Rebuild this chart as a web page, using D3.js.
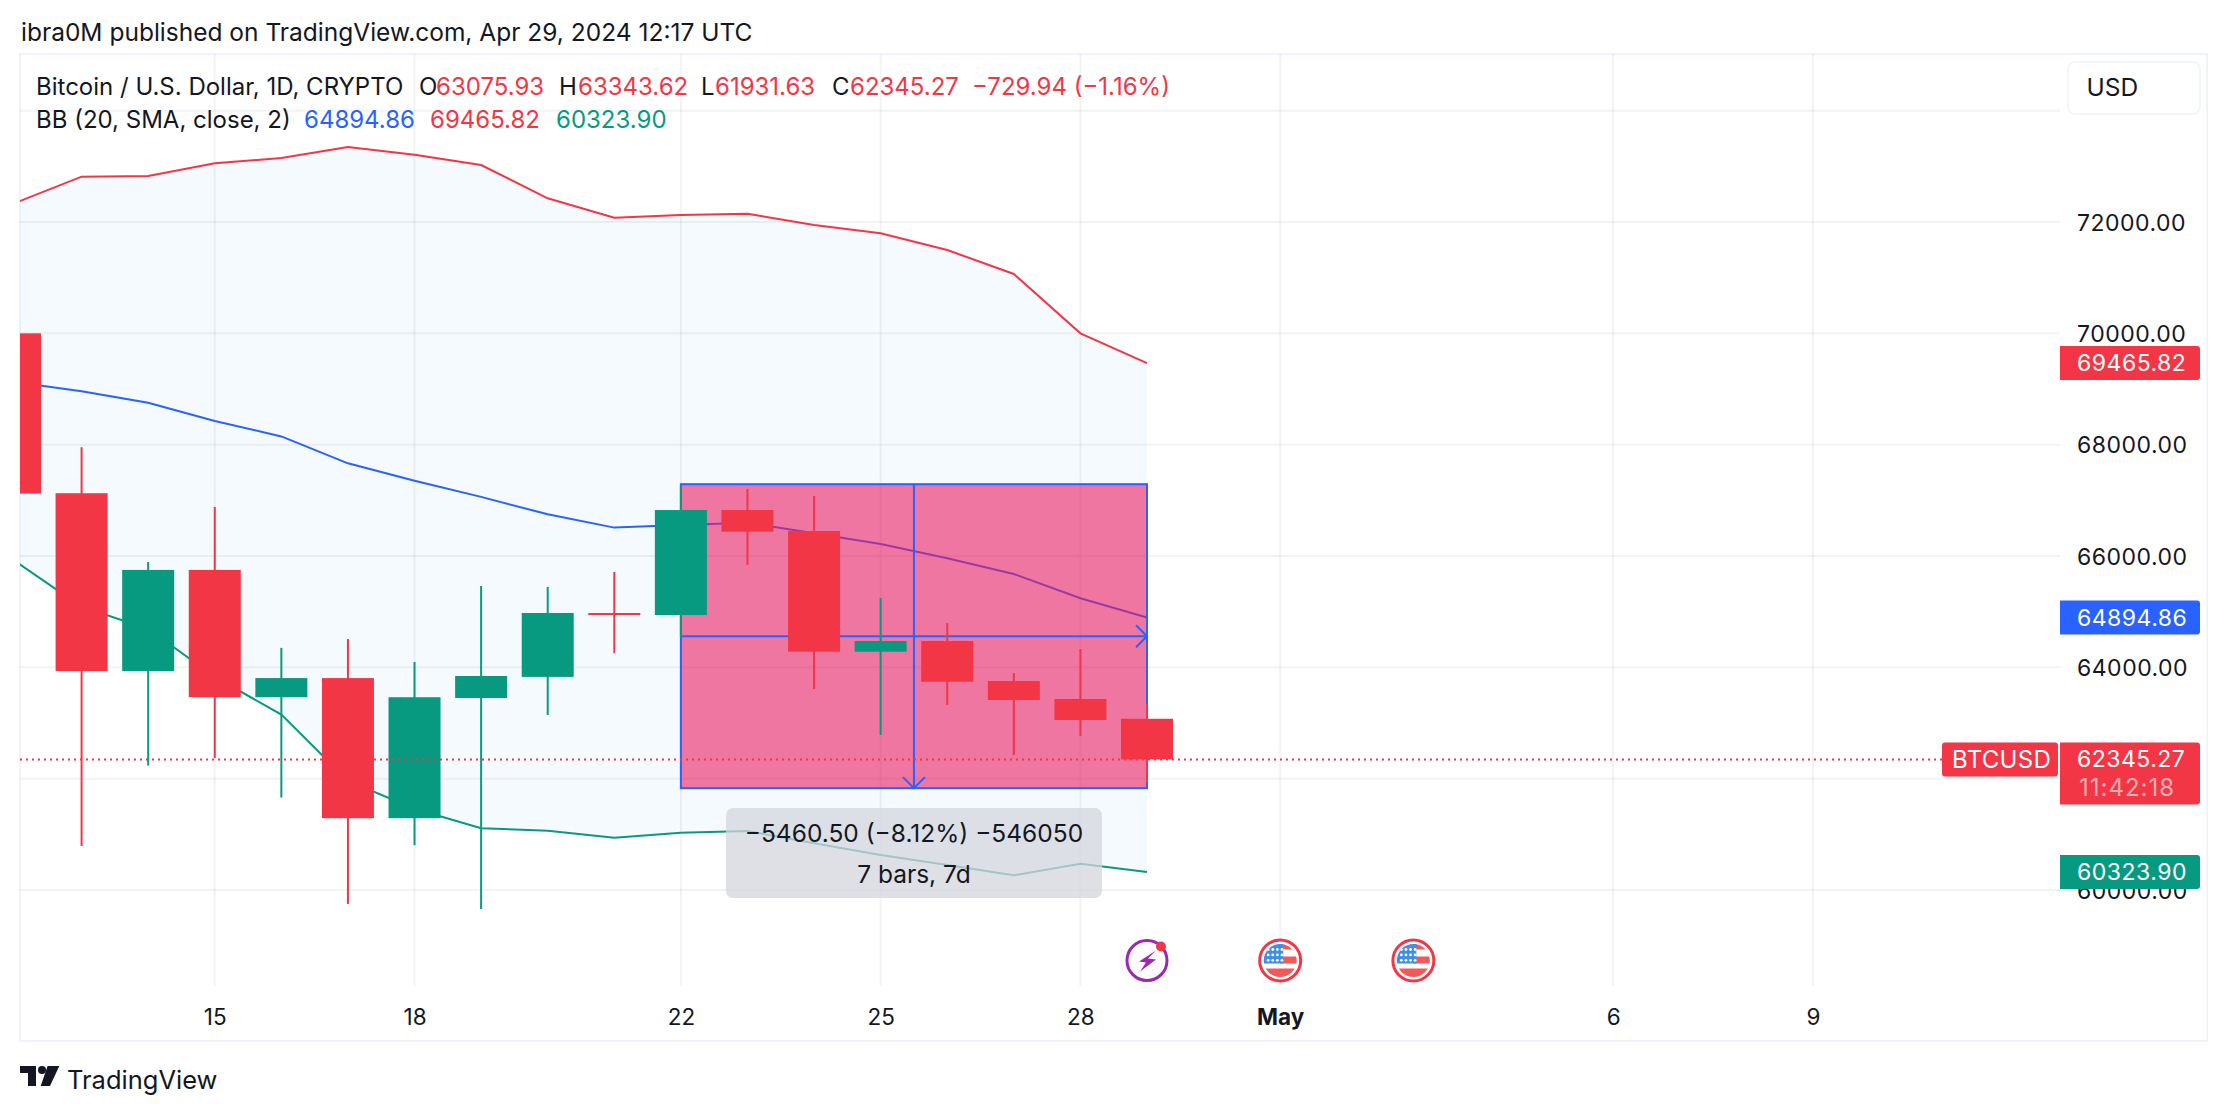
<!DOCTYPE html>
<html>
<head>
<meta charset="utf-8">
<script src="https://cdn.jsdelivr.net/npm/d3@7"></script>
<style>
  html, body { margin: 0; padding: 0; background: #fff; }
  svg { display: block; }
  text { font-family: Inter, "Noto Sans", sans-serif; fill: #131722; }
</style>
</head>
<body>
<div id="chart"></div>
<script>
// candles
var days   = ['2024-04-12','2024-04-13','2024-04-14','2024-04-15','2024-04-16','2024-04-17','2024-04-18','2024-04-19','2024-04-20',
              '2024-04-21','2024-04-22','2024-04-23','2024-04-24','2024-04-25','2024-04-26','2024-04-27','2024-04-28','2024-04-29'];
var opens  = [70000,67128,63934,65750,63463,63807,61290,63449,63828,64976,64940,66826,66449,64281,64473,63754,63431,63075.93];
var highs  = [71200,67954,65892,66882,64350,64507,64097,65459,65445,65713,67250,67204,67078,65246,64796,63898,64329,63343.62];
var lows   = [65100,60790,62235,62370,61661,59748,60805,59659,63144,64254,64540,65838,63611,62784,63323,62425,62767,61931.63];
var closes = [67121,63934,65750,63463,63807,61290,63463,63844,64976,64945,66826,66437,64281,64473,63742,63413,63054,62345.27];

// bollinger bands
var bbUpper = [72341,72814,72826,73055,73150,73347,73209,73024,72426,72077,72126,72149,71946,71797,71497,71066,70000,69465.82];
var bbBasis = [69126,68960,68752,68425,68148,67665,67351,67062,66749,66510,66557,66598,66408,66216,65959,65677,65240,64894.86];
var bbLower = [65910,65087,64692,63828,63151,61960,61460,61110,61065,60940,61029,61060,60839,60629,60449,60264,60472,60323.90];

// axes
var priceTicks = [74000,72000,70000,68000,66000,64000,62000,60000];
var priceLabels = [72000,70000,68000,66000,64000,60000];
var dateTicks  = ['2024-04-15','2024-04-18','2024-04-22','2024-04-25','2024-04-28','2024-05-01','2024-05-06','2024-05-09'];
var dateLabels = ['15','18','22','25','28','May','6','9'];

// measure tool + events
var rangeDays   = ['2024-04-22','2024-04-29'];
var rangePrices = [67290,61829.5];
var rangeText   = ['\u22125460.50 (\u22128.12%) \u2212546050','7 bars, 7d'];
var flagDays    = ['2024-05-01','2024-05-03'];
var boltDay     = '2024-04-29';

var lastPrice = 62345.27;
var red = '#f23645', green = '#089981', blue = '#2962ff', frameCol = '#f0f3fa';

var parse = d3.utcParse('%Y-%m-%d');
var width = 2228, height = 1112;
var plot = { left: 20, right: 2060, top: 54, bottom: 986 };

var x = d3.scaleUtc().domain([parse(days[0]), parse(days[days.length - 1])]).range([15, 1147]);
var y = d3.scaleLinear().domain([60000, 72000]).range([890, 222]);

var candles = days.map(function(d, i) {
  return { date: parse(d), o: opens[i], h: highs[i], l: lows[i], c: closes[i], up: bbUpper[i], mid: bbBasis[i], low: bbLower[i] };
});

var svg = d3.select('#chart').append('svg')
  .attr('width', width)
  .attr('height', height);

svg.append('defs').append('clipPath').attr('id', 'plotClip').append('rect')
  .attr('x', plot.left).attr('y', plot.top)
  .attr('width', plot.right - plot.left).attr('height', plot.bottom - plot.top);

function label(parent, px, py, str, color, size, anchor) {
  return parent.append('text')
    .attr('x', px).attr('y', py)
    .attr('dominant-baseline', 'central')
    .attr('text-anchor', anchor || 'start')
    .style('font-size', (size || 24) + 'px')
    .style('fill', color || '#131722')
    .text(str);
}

// top line and frame
label(svg, 21, 32, 'ibra0M published on TradingView.com, Apr 29, 2024 12:17 UTC', '#131722', 24.5);
svg.append('rect')
  .attr('x', 20).attr('y', 54)
  .attr('width', 2187).attr('height', 987)
  .attr('fill', 'none')
  .attr('stroke', frameCol)
  .attr('stroke-width', 2);

// grid
var chart = svg.append('g').attr('clip-path', 'url(#plotClip)');

chart.selectAll('.hgrid').data(priceTicks).enter().append('line')
  .attr('class', 'hgrid')
  .attr('x1', plot.left).attr('x2', plot.right)
  .attr('y1', function(d) { return y(d); })
  .attr('y2', function(d) { return y(d); })
  .attr('stroke', 'rgba(42,46,57,0.06)')
  .attr('stroke-width', 2);

chart.selectAll('.vgrid').data(dateTicks).enter().append('line')
  .attr('class', 'vgrid')
  .attr('x1', function(d) { return x(parse(d)); })
  .attr('x2', function(d) { return x(parse(d)); })
  .attr('y1', plot.top).attr('y2', plot.bottom)
  .attr('stroke', 'rgba(42,46,57,0.06)')
  .attr('stroke-width', 2);

// bollinger fill and lines
chart.append('path').datum(candles)
  .attr('fill', 'rgba(33,150,243,0.05)')
  .attr('d', d3.area()
    .x(function(d) { return x(d.date); })
    .y0(function(d) { return y(d.low); })
    .y1(function(d) { return y(d.up); }));

[['up', red], ['mid', blue], ['low', green]].forEach(function(s) {
  chart.append('path').datum(candles)
    .attr('fill', 'none')
    .attr('stroke', s[1])
    .attr('stroke-width', 2)
    .attr('d', d3.line()
      .x(function(d) { return x(d.date); })
      .y(function(d) { return y(d[s[0]]); }));
});

// date + price range box
var rx0 = x(parse(rangeDays[0])), rx1 = x(parse(rangeDays[1]));
var ry0 = y(rangePrices[0]), ry1 = y(rangePrices[1]);
var rxm = (rx0 + rx1) / 2, rym = (ry0 + ry1) / 2;

chart.append('rect')
  .attr('x', rx0).attr('y', ry0)
  .attr('width', rx1 - rx0).attr('height', ry1 - ry0)
  .attr('fill', 'rgba(233,30,99,0.6)')
  .attr('stroke', blue)
  .attr('stroke-width', 2);

var arrows = svg.append('g').attr('clip-path', 'url(#plotClip)')
  .attr('fill', 'none').attr('stroke', blue).attr('stroke-width', 2);
arrows.append('line').attr('x1', rx0).attr('x2', rx1).attr('y1', rym).attr('y2', rym);
arrows.append('line').attr('x1', rxm).attr('x2', rxm).attr('y1', ry0).attr('y2', ry1);
arrows.append('path').attr('d', 'M' + (rx1 - 11) + ',' + (rym - 11) + 'L' + rx1 + ',' + rym + 'L' + (rx1 - 11) + ',' + (rym + 11));
arrows.append('path').attr('d', 'M' + (rxm - 11) + ',' + (ry1 - 11) + 'L' + rxm + ',' + ry1 + 'L' + (rxm + 11) + ',' + (ry1 - 11));

// candles
var bodyW = 52;
var candle = svg.append('g').attr('clip-path', 'url(#plotClip)')
  .selectAll('g').data(candles).enter().append('g');

candle.append('line')
  .attr('x1', function(d) { return x(d.date); })
  .attr('x2', function(d) { return x(d.date); })
  .attr('y1', function(d) { return y(d.h); })
  .attr('y2', function(d) { return y(d.l); })
  .attr('stroke', function(d) { return d.c >= d.o ? green : red; })
  .attr('stroke-width', 2);

candle.append('rect')
  .attr('x', function(d) { return x(d.date) - bodyW / 2; })
  .attr('width', bodyW)
  .attr('y', function(d) { return y(Math.max(d.o, d.c)); })
  .attr('height', function(d) { return Math.max(2, Math.abs(y(d.o) - y(d.c))); })
  .attr('fill', function(d) { return d.c >= d.o ? green : red; });

// last price line
svg.append('line')
  .attr('x1', plot.left).attr('x2', 1942)
  .attr('y1', y(lastPrice)).attr('y2', y(lastPrice))
  .attr('stroke', red)
  .attr('stroke-width', 2)
  .attr('stroke-dasharray', '2 4');

// measure tooltip
svg.append('rect')
  .attr('x', rxm - 188).attr('y', 808)
  .attr('width', 376).attr('height', 90)
  .attr('rx', 7)
  .attr('fill', 'rgba(212,214,220,0.75)');
label(svg, rxm, 833, rangeText[0], '#131722', 24.5, 'middle');
label(svg, rxm, 874, rangeText[1], '#131722', 24.5, 'middle');

// y axis
var yAxis = d3.axisRight(y)
  .tickValues(priceLabels)
  .tickSize(0)
  .tickPadding(0)
  .tickFormat(d3.format('.2f'));
var yG = svg.append('g').attr('transform', 'translate(2077,0)').call(yAxis);
yG.select('.domain').remove();
yG.selectAll('text').style('font-size', '23px').attr('dy', null).attr('dominant-baseline', 'central').style('letter-spacing', '0.5px');

// x axis
var xAxis = d3.axisBottom(x)
  .tickValues(dateTicks.map(parse))
  .tickSize(0)
  .tickPadding(0)
  .tickFormat(function(d, i) { return dateLabels[i]; });
var xG = svg.append('g').attr('transform', 'translate(0,1016)').call(xAxis);
xG.select('.domain').remove();
xG.selectAll('text')
  .attr('dy', null)
  .attr('dominant-baseline', 'central')
  .style('font-size', '22.5px')
  .style('font-weight', function(d, i) { return dateLabels[i] === 'May' ? 700 : 400; });

// price tags
function tag(price, color, h, x0, w, str) {
  var top = y(price) - 17;
  svg.append('path')
    .attr('d', 'M' + x0 + ',' + top + 'H' + (x0 + w - 3) + 'a3,3 0 0 1 3,3V' + (top + h - 3) + 'a3,3 0 0 1 -3,3H' + x0 + 'Z')
    .attr('fill', color);
  label(svg, x0 + 17, y(price), str, '#fff', 23).style('letter-spacing', '0.5px');
}
tag(bbUpper[bbUpper.length - 1], red, 34, 2060, 140, '69465.82');
tag(bbBasis[bbBasis.length - 1], blue, 34, 2060, 140, '64894.86');
tag(bbLower[bbLower.length - 1], green, 34, 2060, 140, '60323.90');
tag(lastPrice, red, 62, 2060, 140, '62345.27');
label(svg, 2079, y(lastPrice) + 28, '11:42:18', 'rgba(255,255,255,0.6)', 24).style('letter-spacing', '1px');

svg.append('rect')
  .attr('x', 1942).attr('y', y(lastPrice) - 17)
  .attr('width', 116).attr('height', 34)
  .attr('rx', 3)
  .attr('fill', red);
label(svg, 1952, y(lastPrice), 'BTCUSD', '#fff', 24).style('letter-spacing', '0.3px');

// currency box
svg.append('rect')
  .attr('x', 2068).attr('y', 62)
  .attr('width', 132).attr('height', 52)
  .attr('rx', 7)
  .attr('fill', '#fff')
  .attr('stroke', frameCol)
  .attr('stroke-width', 1.5);
label(svg, 2086.5, 87, 'USD', '#131722', 24.5);

// legend
label(svg, 36, 86, 'Bitcoin / U.S. Dollar, 1D, CRYPTO');
label(svg, 419, 86, 'O');
label(svg, 436, 86, '63075.93', red);
label(svg, 559, 86, 'H');
label(svg, 578, 86, '63343.62', red);
label(svg, 701, 86, 'L');
label(svg, 715, 86, '61931.63', red);
label(svg, 832, 86, 'C');
label(svg, 850, 86, '62345.27', red);
label(svg, 972, 86, '\u2212729.94 (\u22121.16%)', red);
label(svg, 36, 119, 'BB (20, SMA, close, 2)');
label(svg, 304, 119, '64894.86', blue);
label(svg, 430, 119, '69465.82', red);
label(svg, 556, 119, '60323.90', green);

// event icons
var iconY = 960.5;
var bolt = svg.append('g').attr('transform', 'translate(' + x(parse(boltDay)) + ',' + iconY + ')');
bolt.append('circle').attr('r', 20).attr('fill', '#fff').attr('stroke', '#9c27b0').attr('stroke-width', 3);
bolt.append('path').attr('d', 'M9,-10L-8,1L-1,2L-7,11L9,-1L1,-2Z').attr('fill', '#9c27b0');
bolt.append('circle').attr('cx', 14).attr('cy', -14).attr('r', 5).attr('fill', red);

var flagClip = svg.select('defs').append('clipPath').attr('id', 'flagClip');
flagClip.append('circle').attr('r', 16.5);

flagDays.forEach(function(day) {
  var g = svg.append('g').attr('transform', 'translate(' + x(parse(day)) + ',' + iconY + ')');
  g.append('circle').attr('r', 20.5).attr('fill', '#fff').attr('stroke', red).attr('stroke-width', 3);
  var f = g.append('g').attr('clip-path', 'url(#flagClip)');
  f.append('rect').attr('x', -17).attr('y', -17).attr('width', 34).attr('height', 34).attr('fill', '#fff');
  f.append('rect').attr('x', 0).attr('y', -17).attr('width', 17).attr('height', 6).attr('fill', '#f25a5a');
  f.append('rect').attr('x', 0).attr('y', -4).attr('width', 17).attr('height', 7).attr('fill', '#f25a5a');
  f.append('rect').attr('x', -17).attr('y', 8).attr('width', 34).attr('height', 9).attr('fill', '#f25a5a');
  f.append('rect').attr('x', -17).attr('y', -17).attr('width', 20).attr('height', 20).attr('fill', '#3d8fe8');
  d3.range(3).forEach(function(r) {
    d3.range(4).forEach(function(c) {
      f.append('circle').attr('cx', -12 + c * 4.6).attr('cy', -11 + r * 5.4).attr('r', 1.4).attr('fill', '#fff');
    });
  });
});

// logo
svg.append('path')
  .attr('d', 'M20,1066H36V1086H28V1073H20Z M47.6,1066H59.3L50,1086H40.7Z')
  .attr('fill', '#131722');
svg.append('circle').attr('cx', 42).attr('cy', 1070).attr('r', 4).attr('fill', '#131722');
label(svg, 67, 1079, 'TradingView', '#131722', 25.5);
</script>
</body>
</html>
